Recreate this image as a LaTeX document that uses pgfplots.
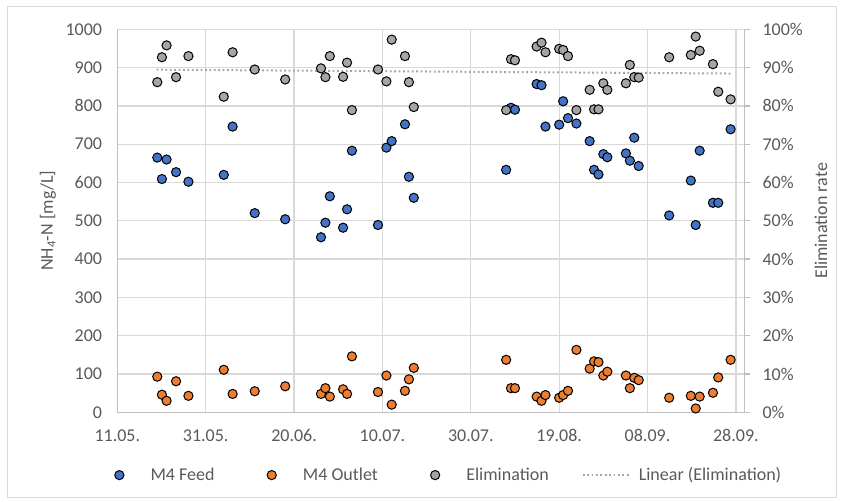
\documentclass[border=0pt]{standalone}
\usepackage{fontspec}
\setmainfont{Carlito}
\usepackage{pgfplots}
\pgfplotsset{compat=1.18}
\usepackage{pgfplotstable}

\definecolor{feedblue}{HTML}{4472C4}
\definecolor{outorange}{HTML}{ED7D31}
\definecolor{elimgray}{HTML}{A5A5A5}
\definecolor{gridgray}{HTML}{D9D9D9}
\definecolor{axgray}{HTML}{BFBFBF}
\definecolor{txtgray}{HTML}{595959}

% day 0 = 11.05.
\pgfplotstableread{
day   feed outlet elim
9.05  665  93   86.2
10.1  609  46   92.7
11.15 660  30   95.8
13.3  627  81   87.5
16.1  602  43   93.0
24.1  620  111  82.4
26.1  746  48   94.0
31.1  520  55   89.5
38.0  504  68   86.9
46.1  457  48   89.8
47.1  495  63   87.5
48.1  564  41   93.0
51.1  482  60   87.6
52.0  530  48   91.3
53.1  683  146  78.9
59.0  489  53   89.5
60.9  691  96   86.4
62.1  708  20   97.3
65.1  752  56   93.0
66.0  615  86   86.2
67.1  560  116  79.7
88.0  633  137  78.9
89.1  795  63   92.2
90.0  790  63   91.9
94.9  857  41   95.5
96.0  854  30   96.5
96.9  746  45   94.0
100.0 751  38   94.9
100.9 812  45   94.6
102.0 768  56   93.0
103.9 754  163  78.9
106.9 708  114  84.2
107.9 633  133  79.1
108.9 621  131  79.1
110.0 674  96   85.9
110.9 666  106  84.2
115.1 676  96   85.9
116.0 657  63   90.7
117.0 717  90   87.5
118.0 643  84   87.4
124.9 514  38   92.7
129.8 605  43   93.3
130.9 489  10   98.1
131.8 683  41   94.4
134.8 547  51   90.9
136.0 547  91   83.7
138.8 739  137  81.7
}\samples

\pgfplotsset{
  chartbase/.style={
    width=627bp, height=383bp, scale only axis,
    xmin=0, xmax=141.9,
    xtick={0,20,...,140},
    /pgf/number format/assume math mode=true,
    /pgf/number format/1000 sep={},
    ticklabel style={font=\fontsize{18bp}{21bp}\selectfont, text=txtgray},
    label style={font=\fontsize{18bp}{21bp}\selectfont, text=txtgray},
  },
  dotmark/.style={only marks, mark=*, mark size=4.6bp,
    mark options={draw=black, line width=1bp, fill=#1}},
  % legend symbol: invisible line with the mark in its middle
  dotlegend/.style={draw opacity=0, mark=*, mark size=4.6bp,
    mark options={draw=black, draw opacity=1, line width=1bp, fill=#1}},
}

\begin{document}
\begin{tikzpicture}[font=\fontsize{18bp}{21bp}\selectfont]
\useasboundingbox (-117.3bp,-89.7bp) rectangle (727.7bp,412.3bp);
\draw[gridgray, line width=1bp] (-109.3bp,-84.7bp) rectangle (718.7bp,405.8bp);

\begin{axis}[chartbase,
  ymin=0, ymax=1000, ytick={0,100,...,1000},
  axis x line*=bottom, axis y line*=left,
  axis line style={axgray, line width=1.3bp, -},
  xmajorgrids, ymajorgrids,
  grid style={gridgray, line width=1.3bp},
  major tick length=0pt,
  xticklabels={11.05.,31.05.,20.06.,10.07.,30.07.,19.08.,08.09.,28.09.},
  xticklabel style={inner sep=0pt, yshift=-17bp},
  yticklabel style={inner sep=0pt, xshift=-15bp},
  ylabel={NH\textsubscript{4}-N [mg/L]},
  ylabel style={at={(axis description cs:-0.1105,0.5)}, anchor=center},
  legend columns=4,
  legend style={at={(-0.0356,-0.164)}, anchor=west, draw=none, fill=none,
    inner sep=0pt, font=\fontsize{18bp}{21bp}\selectfont, text=txtgray,
    nodes={inner sep=7bp},
    /tikz/every even column/.append style={column sep=26bp}},
  legend image code/.code={\draw[mark repeat=2,mark phase=2,#1]
    plot coordinates {(0bp,0bp) (24bp,0bp) (48bp,0bp)};},
]
\addplot[dotmark=feedblue, forget plot] table[x=day, y=feed] {\samples};
\addplot[dotmark=outorange, forget plot] table[x=day, y=outlet] {\samples};
\addlegendimage{dotlegend=feedblue}
\addlegendentry{M4 Feed}
\addlegendimage{dotlegend=outorange}
\addlegendentry{M4 Outlet}
\addlegendimage{dotlegend=elimgray}
\addlegendentry{Elimination}
\addlegendimage{elimgray, line width=2bp, dash pattern=on 1.8bp off 2.6bp}
\addlegendentry{Linear (Elimination)}
\end{axis}

\begin{axis}[chartbase,
  ymin=0, ymax=100, ytick={0,10,...,100},
  axis x line=none, axis y line*=right,
  axis line style={axgray, line width=1.3bp, -},
  every tick/.style={axgray, line width=1.3bp},
  tick align=outside, major tick length=6bp,
  yticklabel={\pgfmathprintnumber{\tick}\%},
  yticklabel style={inner sep=0pt, xshift=12bp},
  ylabel={Elimination rate},
  ylabel style={at={(axis description cs:1.1223,0.5)}, anchor=center},
]
\addplot[dotmark=elimgray] table[x=day, y=elim] {\samples};
\addplot[elimgray, line width=2bp, dash pattern=on 1.8bp off 2.6bp]
  coordinates {(8.9,89.45) (139,88.45)};
\end{axis}
\end{tikzpicture}
\end{document}
